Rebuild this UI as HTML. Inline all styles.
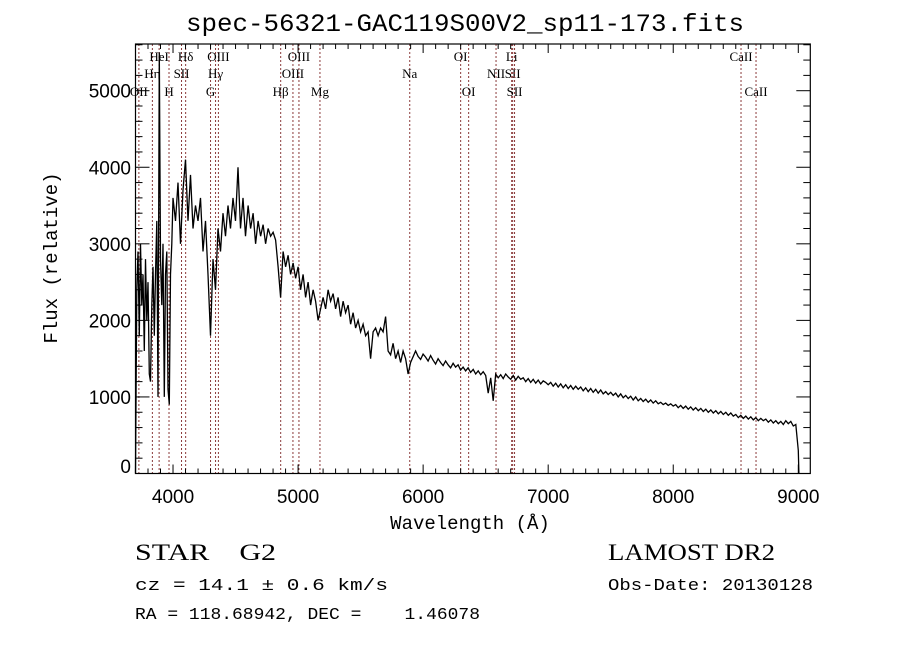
<!DOCTYPE html>
<html><head><meta charset="utf-8"><style>
body{margin:0;background:#fff;width:900px;height:649px;overflow:hidden}
svg{display:block}
text{fill:#000}
</style></head><body>
<svg id="chart" width="900" height="649" xmlns="http://www.w3.org/2000/svg">
<rect x="0" y="0" width="900" height="649" fill="#fff"/>
<text x="186" y="31" textLength="558" lengthAdjust="spacingAndGlyphs" font-family="Liberation Mono, monospace" font-size="25">spec-56321-GAC119S00V2_sp11-173.fits</text>
<g id="lines"></g>
<g id="axes"></g>
<path id="spec" fill="none" stroke="#000" stroke-width="1.3"/>
<text transform="translate(57,258) rotate(-90)" text-anchor="middle" font-family="Liberation Mono, monospace" font-size="19">Flux (relative)</text>
<text x="470" y="529" text-anchor="middle" font-family="Liberation Mono, monospace" font-size="19">Wavelength (Å)</text>
<text x="135" y="560" textLength="141" lengthAdjust="spacingAndGlyphs" font-family="Liberation Serif, serif" font-size="23">STAR&#160;&#160;&#160;&#160;G2</text>
<text x="608" y="560" textLength="167" lengthAdjust="spacingAndGlyphs" font-family="Liberation Serif, serif" font-size="23">LAMOST DR2</text>
<text x="135" y="590" textLength="253" lengthAdjust="spacingAndGlyphs" font-family="Liberation Mono, monospace" font-size="17">cz = 14.1 ± 0.6 km/s</text>
<text x="608" y="590" textLength="205" lengthAdjust="spacingAndGlyphs" font-family="Liberation Mono, monospace" font-size="17">Obs-Date: 20130128</text>
<text x="135" y="619" textLength="345" lengthAdjust="spacingAndGlyphs" font-family="Liberation Mono, monospace" font-size="17" xml:space="preserve">RA = 118.68942, DEC =    1.46078</text>
</svg>
<script>
const blueWave = [3700,3710,3720,3730,3740,3750,3760,3770,3780,3790,3800,3810,3820,3830,3840,3850,3860,3870,3880,3890,3900,3910,3920,3930,3940,3950,3960,3970,3980,3990,
4000,4020,4040,4060,4080,4100,4120,4140,4160,4180,4200,4220,4240,4260,4280,4300,4320,4340,4360,4380,4400,4420,4440,4460,4480,4500,4520,4540,4560,4580,4600,4620,4640,4660,4680,4700,4720,4740,4760,4780,4800,4820,4840,4860,4880,4900,4920,4940,4960,4980,5000,5020,5040,5060,5080,5100,5120,5140,5160,5180,5200,5220,5240,5260,5280,5300,5320,5340,5360,5380,5400,5420,5440,5460,5480,5500,5520,5540,5560,5580,5600,5620,5640,5660,5680,5700,5720,5740,5760,5780,5800,5820,5840,5860,5880,5900];
const blueFlux = [0,2400,2900,1800,3000,2200,2600,1600,2800,2000,2500,1300,1200,2200,2700,1800,2600,3300,1000,5500,2800,2200,3000,1000,2600,2900,1100,900,2600,3000,
3600,3300,3800,3000,3700,4100,3300,3900,3200,3500,3300,3600,2900,3300,2600,1800,2800,2400,3200,2900,3400,3100,3500,3200,3600,3300,4000,3200,3600,3100,3500,3200,3400,3000,3300,3100,3250,3000,3200,3100,3150,3050,2700,2300,2900,2700,2850,2600,2750,2550,2700,2400,2600,2300,2500,2200,2400,2250,2000,2150,2300,2150,2400,2250,2350,2150,2300,2050,2250,2100,2200,1950,2100,1900,2000,1850,1950,1800,1850,1500,1850,1900,1800,1900,1850,2050,1600,1550,1700,1500,1600,1450,1600,1500,1300,1450];
const redStart = 5940, redStep = 20;
const redFlux = [1600,1530,1490,1560,1520,1470,1540,1480,1430,1500,1450,1410,1470,1420,1380,1440,1390,1420,1350,
1390,1340,1380,1320,1360,1300,1340,1290,1330,1280,
1050,1250,950,
1300,1250,1290,1240,1300,1260,1230,1280,1220,1270,1230,1250,1200,1240,1190,1230,1180,1220,1170,1210,1190,1160,
1190,1140,1180,1130,1170,1120,1160,1110,1150,1100,1140,1100,1130,1080,1120,1070,1110,1060,1100,1050,1090,1040,1070,1030,1060,
1020,1050,1000,1040,990,1020,980,1010,960,1000,950,980,940,970,930,960,920,950,910,930,900,920,890,910,880,
900,860,890,850,880,840,870,830,860,820,850,810,840,800,830,790,820,780,810,770,800,760,790,750,770,
730,760,720,750,710,740,700,730,690,720,690,710,670,700,660,690,650,680,640,690,650,680,620,640];
const endWave = [9000,9005];
const endFlux = [300,0];
const xTicks = [4000,5000,6000,7000,8000,9000];
const yTicks = [0,1000,2000,3000,4000,5000];
const lineWave = [3727,3835,3889,3968,4068,4101,4300,4340,4363,4861,4959,5007,5175,5893,6300,6364,6583,6708,6716,6731,8542,8662];
const lineName = ["OII","Hη","HeI","H","SII","Hδ","G","Hγ","OIII","Hβ","OIII","OIII","Mg","Na","OI","OI","NII","Li","SII","SII","CaII","CaII"];
const lineRow = [3,2,1,3,2,1,3,2,1,3,2,1,3,2,1,3,2,1,2,3,1,3];

const wave = blueWave.concat(redFlux.map((_,i)=>redStart+i*redStep), endWave);
const flux = blueFlux.concat(redFlux, endFlux);

const L=135.5,R=810.3,T=44,B=473.5,XMIN=3700,XMAX=9096,YMIN=0,YMAX=5610;
const sx=w=>L+(w-XMIN)/(XMAX-XMIN)*(R-L);
const sy=f=>B-(f-YMIN)/(YMAX-YMIN)*(B-T);
const NS='http://www.w3.org/2000/svg';
function mk(tag,parent,attrs){const e=document.createElementNS(NS,tag);for(const k in attrs)e.setAttribute(k,attrs[k]);parent.appendChild(e);return e;}

const lg=document.getElementById('lines');
const rowY=[0,61,78,96];
lineWave.forEach((w,i)=>{
  const ln=mk('line',lg,{x1:sx(w),x2:sx(w),y1:T,y2:B,stroke:'#8b3a3a','stroke-width':1,'stroke-dasharray':'2,2'});
  
  
  const tx=mk('text',lg,{x:sx(w),y:rowY[lineRow[i]],'text-anchor':'middle','font-family':'Liberation Serif, serif','font-size':13});
  tx.textContent=lineName[i];
  
  
});

const ax=document.getElementById('axes');
const frame=mk('rect',ax,{x:L,y:T,width:R-L,height:B-T,fill:'none',stroke:'#000','stroke-width':1.2});


for(let w=3700;w<=XMAX;w+=100){
  const maj=w%1000===0, len=maj?9:5;
  mk('line',ax,{x1:sx(w),x2:sx(w),y1:B,y2:B-len,stroke:'#000'});
  mk('line',ax,{x1:sx(w),x2:sx(w),y1:T,y2:T+len,stroke:'#000'});
}
for(let f=0;f<=YMAX;f+=200){
  const maj=f%1000===0, len=maj?14:7;
  mk('line',ax,{x1:L,x2:L+len,y1:sy(f),y2:sy(f),stroke:'#000'});
  mk('line',ax,{x1:R,x2:R-len,y1:sy(f),y2:sy(f),stroke:'#000'});
}
xTicks.forEach(v=>{
  const t=mk('text',ax,{x:sx(v),y:503,'text-anchor':'middle','font-family':'Liberation Sans, sans-serif','font-size':19});
  t.textContent=v;
  
  
});
yTicks.forEach(v=>{
  const y=Math.min(sy(v)+7,473);
  const t=mk('text',ax,{x:131,y:y,'text-anchor':'end','font-family':'Liberation Sans, sans-serif','font-size':19});
  t.textContent=v;
  
  
});

let d='';
wave.forEach((w,i)=>{d+=(i?'L':'M')+sx(w).toFixed(1)+','+Math.max(sy(flux[i]),T).toFixed(1);});
document.getElementById('spec').setAttribute('d',d);
</script>
</body></html>
